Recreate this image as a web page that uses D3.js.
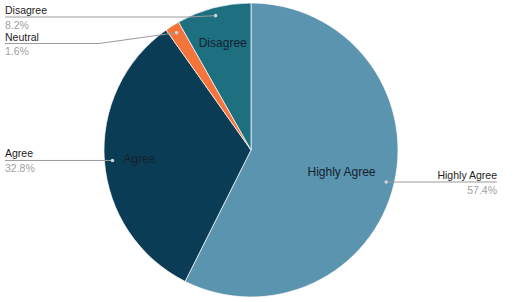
<!DOCTYPE html>
<html>
<head>
<meta charset="utf-8">
<script src="https://cdn.jsdelivr.net/npm/d3@7/dist/d3.min.js"></script>
<style>
  html, body { margin: 0; padding: 0; background: #fff; }
  svg { display: block; font-family: "Liberation Sans", Arial, sans-serif; }
</style>
</head>
<body>
<div id="chart"></div>
<script>
/* Survey response pie */

const CATEGORIES = ['Highly Agree', 'Agree', 'Neutral', 'Disagree'];
const VALUES = [57.4, 32.8, 1.6, 8.2];
const PCT_LABELS = ['57.4%', '32.8%', '1.6%', '8.2%'];
const COLORS = ['#5b94ae', '#0b3c56', '#f4743b', '#1e6f80'];

const width = 515, height = 302;
const cx = 251, cy = 150, R = 147;

const svg = d3.select('#chart').append('svg')
  .attr('width', width)
  .attr('height', height);

const data = CATEGORIES.map((c, i) => ({ name: c, value: VALUES[i], pct: PCT_LABELS[i], color: COLORS[i] }));

const pie = d3.pie().sort(null).value(d => d.value);
const arcs = pie(data);

const arc = d3.arc().innerRadius(0).outerRadius(R);
const g = svg.append('g').attr('transform', `translate(${cx},${cy})`);

g.selectAll('path')
  .data(arcs)
  .join('path')
  .attr('d', arc)
  .attr('fill', d => d.data.color)
  .attr('stroke', '#fff')
  .attr('stroke-width', 0.7);

// Inner labels (only for slices big enough)
const innerRadius = { 'Highly Agree': 93, 'Agree': 112, 'Disagree': 111 };
g.selectAll('text.inner')
  .data(arcs.filter(d => innerRadius[d.data.name]))
  .join('text')
  .attr('class', 'inner')
  .attr('transform', d => {
    const r = innerRadius[d.data.name];
    const c = d3.arc().innerRadius(r).outerRadius(r).centroid(d);
    return `translate(${c[0]},${c[1]})`;
  })
  .attr('text-anchor', 'middle')
  .attr('dy', '0.35em')
  .attr('font-size', 12)
  .attr('fill', '#13212e')
  .text(d => d.data.name);

// Outside labels with leader lines
const dotArc = d3.arc().innerRadius(R * 0.945).outerRadius(R * 0.945);
const labels = arcs.map(d => {
  const p = dotArc.centroid(d);
  const x = cx + p[0], y = cy + p[1];
  return { d, dotX: x, dotY: y, side: x < cx ? 'left' : 'right', lineY: y };
});

// simple collision layout per side
['left', 'right'].forEach(side => {
  const items = labels.filter(l => l.side === side).sort((a, b) => a.dotY - b.dotY);
  let prev = -Infinity;
  items.forEach(l => {
    l.lineY = Math.max(l.dotY, 17, prev + 26.5);
    prev = l.lineY;
  });
});

const lab = svg.append('g');
labels.forEach(l => {
  const left = l.side === 'left';
  const edgeX = left ? 5 : 497;
  const dy = Math.abs(l.lineY - l.dotY);
  const run = Math.max(28, dy * 7.2);
  const elbowX = left ? l.dotX - run : l.dotX + run;
  const pts = dy > 1 ? [[edgeX, l.lineY], [elbowX, l.lineY], [l.dotX, l.dotY]]
                     : [[edgeX, l.lineY], [l.dotX, l.lineY]];
  lab.append('path')
    .attr('d', d3.line()(pts))
    .attr('fill', 'none')
    .attr('stroke', '#9a9a9a')
    .attr('stroke-width', 1);
  lab.append('circle')
    .attr('cx', l.dotX).attr('cy', l.dotY).attr('r', 1.8)
    .attr('fill', '#c8d4da');
  lab.append('text')
    .attr('x', edgeX).attr('y', l.lineY - 3)
    .attr('text-anchor', left ? 'start' : 'end')
    .attr('font-size', 10.5)
    .attr('fill', '#222')
    .text(l.d.data.name);
  lab.append('text')
    .attr('x', edgeX).attr('y', l.lineY + 11.5)
    .attr('text-anchor', left ? 'start' : 'end')
    .attr('font-size', 10.5)
    .attr('fill', '#a0a0a0')
    .text(l.d.data.pct);
});
</script>
</body>
</html>
